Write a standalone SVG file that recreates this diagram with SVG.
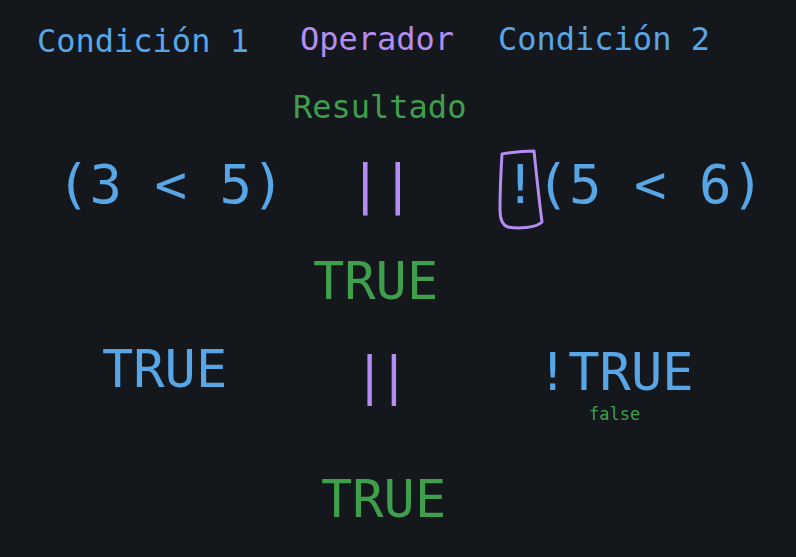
<svg xmlns="http://www.w3.org/2000/svg" width="796" height="557" viewBox="0 0 796 557">
<style>
text{font-family:"DejaVu Sans Mono","Liberation Mono",monospace;}
.b{fill:#58a6e6}.p{fill:#b48cf2}.g{fill:#3f9f4c}
.h{font-size:32px}.l{font-size:52px}.x{font-size:54px}.s{font-size:17px}
</style>
<rect width="796" height="557" fill="#14171c"/>
<g id="headers">
<text class="h b" x="37" y="52">Condición 1</text>
<text class="h p" x="300" y="50">Operador</text>
<text class="h b" x="498" y="50">Condición 2</text>
<text class="h g" x="293" y="118">Resultado</text>
</g>
<g id="row1">
<text class="x b" x="57" y="203">(3 &lt; 5)</text>
<text class="x p" x="349" y="203">||</text>
<text class="x b" x="504" y="203">!(5 &lt; 6)</text>
</g>
<g id="highlight">
<path d="M502 154 C514 152 526 151 534 151 C536 170 539 200 542 222 C536 228 518 229 508 227 C502 225 500 218 500 210 C500 190 501 170 502 154 Z" fill="none" stroke="#b48cf2" stroke-width="3" stroke-linejoin="round"/>
</g>
<g id="result1"><text class="l g" x="313" y="299">TRUE</text></g>
<g id="row2">
<text class="l b" x="102" y="387">TRUE</text>
<text class="l p" x="354" y="393" letter-spacing="-7">||</text>
<text class="l b" x="537" y="390">!TRUE</text>
<text class="s g" x="589" y="420">false</text>
</g>
<g id="result2"><text class="l g" x="321" y="517">TRUE</text></g>
</svg>
